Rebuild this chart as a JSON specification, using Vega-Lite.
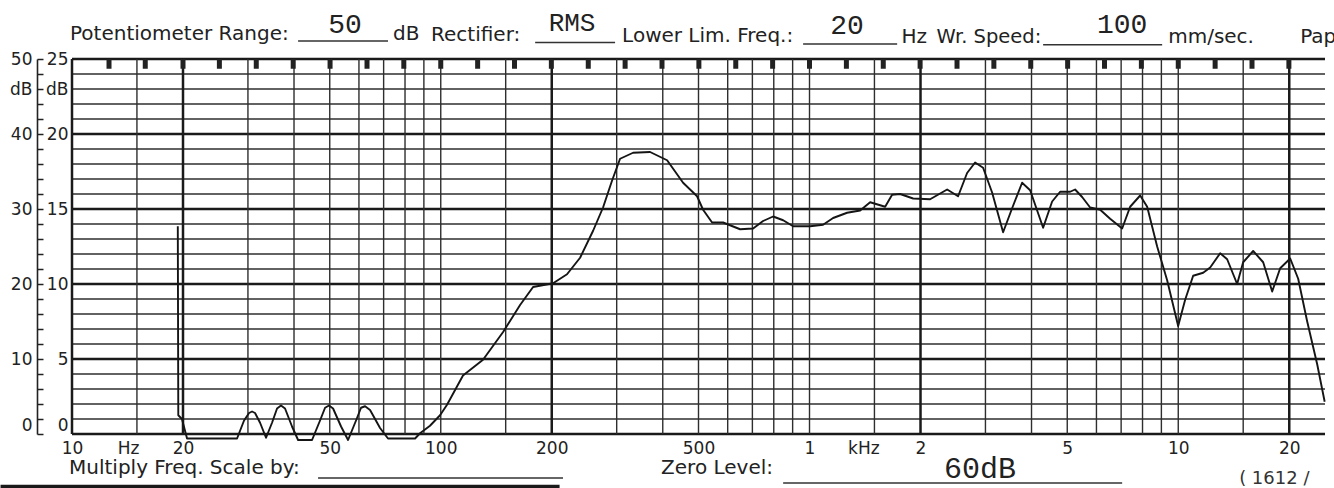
{
  "$schema": "https://vega.github.io/schema/vega-lite/v6.json",
  "width": 1253,
  "height": 375,
  "autosize": {"type": "none"},
  "padding": {"left": 72, "top": 59, "right": 9, "bottom": 54},
  "background": "white",
  "config": {
    "view": {"stroke": null},
    "axis": {"labelFont": "DejaVu Sans", "labelFontSize": 17, "labelColor": "#222", "labelOverlap": false, "labelFlush": false,
      "labelBound": false, "grid": false, "domainColor": "#222", "tickColor": "#222"}
  },
  "datasets": {
    "one": [{}],
    "curve": [
      {"freq": 19.36, "level": 27.7}, {"freq": 19.42, "level": 2.5}, {"freq": 19.87, "level": 2.0}, {"freq": 20.51, "level": -0.6},
      {"freq": 28.03, "level": -0.6}, {"freq": 29.28, "level": 1.8}, {"freq": 30.21, "level": 2.8}, {"freq": 30.78, "level": 3.0},
      {"freq": 31.36, "level": 2.8}, {"freq": 32.36, "level": 1.5}, {"freq": 33.59, "level": -0.5}, {"freq": 34.87, "level": 1.5},
      {"freq": 35.98, "level": 3.4}, {"freq": 36.88, "level": 3.8}, {"freq": 37.82, "level": 3.4}, {"freq": 39.51, "level": 1.0},
      {"freq": 41.03, "level": -0.8}, {"freq": 44.77, "level": -0.8}, {"freq": 47.06, "level": 1.8}, {"freq": 48.56, "level": 3.5},
      {"freq": 49.78, "level": 3.8}, {"freq": 51.05, "level": 3.4}, {"freq": 53.66, "level": 1.0}, {"freq": 56.06, "level": -0.8},
      {"freq": 58.92, "level": 1.8}, {"freq": 60.79, "level": 3.5}, {"freq": 62.34, "level": 3.7}, {"freq": 64.31, "level": 3.2},
      {"freq": 68.45, "level": 0.8}, {"freq": 71.94, "level": -0.6}, {"freq": 85.18, "level": -0.6}, {"freq": 87.88, "level": 0.1},
      {"freq": 93.5, "level": 1.1}, {"freq": 99.56, "level": 2.5}, {"freq": 104.0, "level": 3.9}, {"freq": 114.9, "level": 7.8},
      {"freq": 130.2, "level": 9.9}, {"freq": 147.6, "level": 13.6}, {"freq": 164.1, "level": 17.2}, {"freq": 178.0, "level": 19.6},
      {"freq": 201.7, "level": 20.1}, {"freq": 220.0, "level": 21.3}, {"freq": 238.7, "level": 23.5}, {"freq": 258.9, "level": 27.1},
      {"freq": 275.5, "level": 30.2}, {"freq": 291.5, "level": 33.8}, {"freq": 306.4, "level": 36.7}, {"freq": 332.3, "level": 37.5},
      {"freq": 369.5, "level": 37.6}, {"freq": 411.0, "level": 36.5}, {"freq": 454.1, "level": 33.5}, {"freq": 495.6, "level": 31.7},
      {"freq": 514.5, "level": 29.9}, {"freq": 544.3, "level": 28.2}, {"freq": 583.0, "level": 28.2}, {"freq": 648.3, "level": 27.3},
      {"freq": 703.2, "level": 27.4}, {"freq": 748.3, "level": 28.4}, {"freq": 796.7, "level": 29.0}, {"freq": 848.2, "level": 28.5},
      {"freq": 902.8, "level": 27.7}, {"freq": 1003.8, "level": 27.7}, {"freq": 1088.6, "level": 27.9}, {"freq": 1158.8, "level": 28.8},
      {"freq": 1264.7, "level": 29.5}, {"freq": 1371.9, "level": 29.8}, {"freq": 1460.3, "level": 30.9}, {"freq": 1554.4, "level": 30.5},
      {"freq": 1603.7, "level": 30.3}, {"freq": 1675, "level": 31.9}, {"freq": 1761, "level": 32.0}, {"freq": 1910, "level": 31.4},
      {"freq": 2123.3, "level": 31.3}, {"freq": 2362, "level": 32.6}, {"freq": 2529.1, "level": 31.7}, {"freq": 2675.3, "level": 34.8},
      {"freq": 2812.3, "level": 36.2}, {"freq": 2956.4, "level": 35.5}, {"freq": 3127.4, "level": 32.2}, {"freq": 3350, "level": 26.9},
      {"freq": 3543.8, "level": 30.1}, {"freq": 3771.4, "level": 33.5}, {"freq": 3965.9, "level": 32.5}, {"freq": 4300.7, "level": 27.5},
      {"freq": 4549.6, "level": 31.0}, {"freq": 4782.6, "level": 32.3}, {"freq": 5090.1, "level": 32.3}, {"freq": 5251.5, "level": 32.6},
      {"freq": 5486.6, "level": 31.6}, {"freq": 5768, "level": 30.2}, {"freq": 6140.8, "level": 29.9}, {"freq": 6535.1, "level": 28.7},
      {"freq": 7044.3, "level": 27.4}, {"freq": 7405.1, "level": 30.3}, {"freq": 7882.8, "level": 31.8}, {"freq": 8235.4, "level": 30.3},
      {"freq": 8765.8, "level": 25.0}, {"freq": 9329.5, "level": 20.5}, {"freq": 9993.8, "level": 14.4}, {"freq": 10440, "level": 17.9},
      {"freq": 10975, "level": 21.1}, {"freq": 11683, "level": 21.5}, {"freq": 12205, "level": 22.2}, {"freq": 12990, "level": 24.1},
      {"freq": 13571, "level": 23.3}, {"freq": 14443, "level": 20.0}, {"freq": 14995, "level": 22.9}, {"freq": 15964, "level": 24.4},
      {"freq": 16994, "level": 22.9}, {"freq": 17976, "level": 19.0}, {"freq": 18897, "level": 22.1}, {"freq": 20117, "level": 23.4},
      {"freq": 21146, "level": 20.7}, {"freq": 22370, "level": 15.0}, {"freq": 23810, "level": 9.3}, {"freq": 24950, "level": 4.3}
    ],
    "vthin": [{"freq": 15}, {"freq": 30}, {"freq": 40}, {"freq": 50}, {"freq": 60}, {"freq": 70}, {"freq": 80}, {"freq": 90}, {"freq": 100},
      {"freq": 150}, {"freq": 300}, {"freq": 400}, {"freq": 500}, {"freq": 600}, {"freq": 700}, {"freq": 800}, {"freq": 900}, {"freq": 1000},
      {"freq": 1500}, {"freq": 3000}, {"freq": 4000}, {"freq": 5000}, {"freq": 6000}, {"freq": 7000}, {"freq": 8000}, {"freq": 9000}, {"freq": 10000}, {"freq": 15000}],
    "vthick": [{"freq": 10}, {"freq": 20}, {"freq": 200}, {"freq": 2000}, {"freq": 20000}],
    "hthin": [{"level": 2}, {"level": 4}, {"level": 6}, {"level": 8}, {"level": 12}, {"level": 14}, {"level": 16}, {"level": 18},
      {"level": 22}, {"level": 24}, {"level": 26}, {"level": 28}, {"level": 32}, {"level": 34}, {"level": 36}, {"level": 38},
      {"level": 42}, {"level": 44}, {"level": 46}, {"level": 48}],
    "hthick": [{"level": 0}, {"level": 10}, {"level": 20}, {"level": 30}, {"level": 40}, {"level": 50}],
    "marks": [{"freq": 12.6}, {"freq": 15.8}, {"freq": 20}, {"freq": 25.1}, {"freq": 31.6}, {"freq": 39.8}, {"freq": 50.1}, {"freq": 63.1},
      {"freq": 79.4}, {"freq": 100}, {"freq": 125.9}, {"freq": 158.5}, {"freq": 199.5}, {"freq": 251.2}, {"freq": 316.2}, {"freq": 398.1},
      {"freq": 501.2}, {"freq": 631}, {"freq": 794.3}, {"freq": 1000}, {"freq": 1259}, {"freq": 1585}, {"freq": 1995}, {"freq": 2512},
      {"freq": 3162}, {"freq": 3981}, {"freq": 5012}, {"freq": 6310}, {"freq": 7943}, {"freq": 10000}, {"freq": 12589}, {"freq": 15849}, {"freq": 19953}]
  },
  "layer": [
    {
      "layer": [
        {
          "data": {"name": "hthin"},
          "mark": {"type": "rule", "color": "#2e2e2e", "strokeWidth": 1.3},
          "encoding": {
            "y": {"field": "level", "type": "quantitative", "scale": {"domain": [0, 50], "nice": false, "zero": false},
              "axis": {"title": null, "offset": 35, "values": [0, 10, 20, 30, 40, 46, 50],
                "labelExpr": "datum.value == 46 ? 'dB' : datum.label",
                "labelBaseline": {"condition": {"test": "datum.value == 0", "value": "bottom"}, "value": "middle"},
                "domain": false, "ticks": false, "labelPadding": 5}}
          }
        },
        {
          "data": {"name": "hthick"},
          "mark": {"type": "rule", "color": "#1a1a1a", "strokeWidth": 2.3},
          "encoding": {
            "y": {"field": "level", "type": "quantitative", "scale": {"domain": [0, 50], "nice": false, "zero": false}}
          }
        },
        {
          "data": {"name": "vthin"},
          "mark": {"type": "rule", "color": "#2e2e2e", "strokeWidth": 1.4},
          "encoding": {
            "x": {"field": "freq", "type": "quantitative", "scale": {"type": "log", "domain": [10, 25000], "nice": false},
              "axis": {"title": null, "ticks": false, "domain": false,
                "values": [10, 14.2, 20, 50, 100, 200, 500, 1000, 1400, 2000, 5000, 10000, 20000],
                "labelExpr": "datum.value == 14.2 ? 'Hz' : (datum.value == 1400 ? 'kHz' : (datum.value >= 1000 ? format(datum.value / 1000, 'd') : format(datum.value, 'd')))",
                "labelPadding": 6, "labelBaseline": "top"}}
          }
        },
        {
          "data": {"name": "vthick"},
          "mark": {"type": "rule", "color": "#1a1a1a", "strokeWidth": 2.5},
          "encoding": {
            "x": {"field": "freq", "type": "quantitative", "scale": {"type": "log", "domain": [10, 25000], "nice": false}}
          }
        },
        {
          "data": {"name": "marks"},
          "mark": {"type": "rule", "color": "#222", "strokeWidth": 5},
          "encoding": {
            "x": {"field": "freq", "type": "quantitative", "scale": {"type": "log", "domain": [10, 25000], "nice": false}},
            "y": {"datum": 50, "type": "quantitative", "scale": {"domain": [0, 50], "nice": false, "zero": false}},
            "y2": {"datum": 48.7}
          }
        },
        {
          "data": {"name": "curve"},
          "mark": {"type": "line", "color": "#151515", "strokeWidth": 1.9, "strokeJoin": "round", "clip": false},
          "encoding": {
            "x": {"field": "freq", "type": "quantitative", "scale": {"type": "log", "domain": [10, 25000], "nice": false}},
            "y": {"field": "level", "type": "quantitative", "scale": {"domain": [0, 50], "nice": false, "zero": false}}
          }
        },
        {
          "data": {"name": "one"},
          "mark": {"type": "text", "align": "left", "baseline": "alphabetic", "font": "DejaVu Sans", "fontSize": 20, "color": "#222"},
          "encoding": {
            "x": {"datum": 9.876, "type": "quantitative", "scale": {"type": "log", "domain": [10, 25000], "nice": false}},
            "y": {"datum": 52.6, "type": "quantitative", "scale": {"domain": [0, 50], "nice": false, "zero": false}},
            "text": {"value": "Potentiometer Range:"}
          }
        },
        {
          "data": {"name": "one"},
          "mark": {"type": "text", "align": "left", "baseline": "alphabetic", "font": "DejaVu Sans", "fontSize": 20, "color": "#222"},
          "encoding": {
            "x": {"datum": 74.24, "type": "quantitative", "scale": {"type": "log", "domain": [10, 25000], "nice": false}},
            "y": {"datum": 52.5, "type": "quantitative", "scale": {"domain": [0, 50], "nice": false, "zero": false}},
            "text": {"value": "dB"}
          }
        },
        {
          "data": {"name": "one"},
          "mark": {"type": "text", "align": "left", "baseline": "alphabetic", "font": "DejaVu Sans", "fontSize": 20, "color": "#222"},
          "encoding": {
            "x": {"datum": 94.13, "type": "quantitative", "scale": {"type": "log", "domain": [10, 25000], "nice": false}},
            "y": {"datum": 52.4, "type": "quantitative", "scale": {"domain": [0, 50], "nice": false, "zero": false}},
            "text": {"value": "Rectifier:"}
          }
        },
        {
          "data": {"name": "one"},
          "mark": {"type": "text", "align": "left", "baseline": "alphabetic", "font": "DejaVu Sans", "fontSize": 20, "color": "#222"},
          "encoding": {
            "x": {"datum": 310.3, "type": "quantitative", "scale": {"type": "log", "domain": [10, 25000], "nice": false}},
            "y": {"datum": 52.3, "type": "quantitative", "scale": {"domain": [0, 50], "nice": false, "zero": false}},
            "text": {"value": "Lower Lim. Freq.:"}
          }
        },
        {
          "data": {"name": "one"},
          "mark": {"type": "text", "align": "left", "baseline": "alphabetic", "font": "DejaVu Sans", "fontSize": 20, "color": "#222"},
          "encoding": {
            "x": {"datum": 1775, "type": "quantitative", "scale": {"type": "log", "domain": [10, 25000], "nice": false}},
            "y": {"datum": 52.2, "type": "quantitative", "scale": {"domain": [0, 50], "nice": false, "zero": false}},
            "text": {"value": "Hz"}
          }
        },
        {
          "data": {"name": "one"},
          "mark": {"type": "text", "align": "left", "baseline": "alphabetic", "font": "DejaVu Sans", "fontSize": 19.5, "color": "#222"},
          "encoding": {
            "x": {"datum": 2210, "type": "quantitative", "scale": {"type": "log", "domain": [10, 25000], "nice": false}},
            "y": {"datum": 52.2, "type": "quantitative", "scale": {"domain": [0, 50], "nice": false, "zero": false}},
            "text": {"value": "Wr. Speed:"}
          }
        },
        {
          "data": {"name": "one"},
          "mark": {"type": "text", "align": "left", "baseline": "alphabetic", "font": "DejaVu Sans", "fontSize": 20, "color": "#222"},
          "encoding": {
            "x": {"datum": 9389.8, "type": "quantitative", "scale": {"type": "log", "domain": [10, 25000], "nice": false}},
            "y": {"datum": 52.1, "type": "quantitative", "scale": {"domain": [0, 50], "nice": false, "zero": false}},
            "text": {"value": "mm/sec."}
          }
        },
        {
          "data": {"name": "one"},
          "mark": {"type": "text", "align": "left", "baseline": "alphabetic", "font": "DejaVu Sans", "fontSize": 20, "color": "#222"},
          "encoding": {
            "x": {"datum": 21412, "type": "quantitative", "scale": {"type": "log", "domain": [10, 25000], "nice": false}},
            "y": {"datum": 52.1, "type": "quantitative", "scale": {"domain": [0, 50], "nice": false, "zero": false}},
            "text": {"value": "Pape"}
          }
        },
        {
          "data": {"name": "one"},
          "mark": {"type": "rule", "color": "#333", "strokeWidth": 1.5},
          "encoding": {
            "x": {"datum": 41.03, "type": "quantitative", "scale": {"type": "log", "domain": [10, 25000], "nice": false}},
            "x2": {"datum": 71.94},
            "y": {"datum": 52.4, "type": "quantitative", "scale": {"domain": [0, 50], "nice": false, "zero": false}}
          }
        },
        {
          "data": {"name": "one"},
          "mark": {"type": "rule", "color": "#333", "strokeWidth": 1.5},
          "encoding": {
            "x": {"datum": 180.3, "type": "quantitative", "scale": {"type": "log", "domain": [10, 25000], "nice": false}},
            "x2": {"datum": 297.0},
            "y": {"datum": 52.2, "type": "quantitative", "scale": {"domain": [0, 50], "nice": false, "zero": false}}
          }
        },
        {
          "data": {"name": "one"},
          "mark": {"type": "rule", "color": "#333", "strokeWidth": 1.5},
          "encoding": {
            "x": {"datum": 960.9, "type": "quantitative", "scale": {"type": "log", "domain": [10, 25000], "nice": false}},
            "x2": {"datum": 1728.5},
            "y": {"datum": 52.0, "type": "quantitative", "scale": {"domain": [0, 50], "nice": false, "zero": false}}
          }
        },
        {
          "data": {"name": "one"},
          "mark": {"type": "rule", "color": "#333", "strokeWidth": 1.5},
          "encoding": {
            "x": {"datum": 4300.8, "type": "quantitative", "scale": {"type": "log", "domain": [10, 25000], "nice": false}},
            "x2": {"datum": 9042.7},
            "y": {"datum": 51.9, "type": "quantitative", "scale": {"domain": [0, 50], "nice": false, "zero": false}}
          }
        },
        {
          "data": {"name": "one"},
          "mark": {"type": "text", "align": "center", "baseline": "alphabetic", "font": "Liberation Mono", "fontSize": 28, "color": "#222"},
          "encoding": {
            "x": {"datum": 55.02, "type": "quantitative", "scale": {"type": "log", "domain": [10, 25000], "nice": false}},
            "y": {"datum": 53.5, "type": "quantitative", "scale": {"domain": [0, 50], "nice": false, "zero": false}},
            "text": {"value": "50"}
          }
        },
        {
          "data": {"name": "one"},
          "mark": {"type": "text", "align": "center", "baseline": "alphabetic", "font": "Liberation Mono", "fontSize": 26, "color": "#222"},
          "encoding": {
            "x": {"datum": 227.0, "type": "quantitative", "scale": {"type": "log", "domain": [10, 25000], "nice": false}},
            "y": {"datum": 53.8, "type": "quantitative", "scale": {"domain": [0, 50], "nice": false, "zero": false}},
            "text": {"value": "RMS"}
          }
        },
        {
          "data": {"name": "one"},
          "mark": {"type": "text", "align": "center", "baseline": "alphabetic", "font": "Liberation Mono", "fontSize": 28, "color": "#222"},
          "encoding": {
            "x": {"datum": 1264.7, "type": "quantitative", "scale": {"type": "log", "domain": [10, 25000], "nice": false}},
            "y": {"datum": 53.4, "type": "quantitative", "scale": {"domain": [0, 50], "nice": false, "zero": false}},
            "text": {"value": "20"}
          }
        },
        {
          "data": {"name": "one"},
          "mark": {"type": "text", "align": "center", "baseline": "alphabetic", "font": "Liberation Mono", "fontSize": 28, "color": "#222"},
          "encoding": {
            "x": {"datum": 7044, "type": "quantitative", "scale": {"type": "log", "domain": [10, 25000], "nice": false}},
            "y": {"datum": 53.5, "type": "quantitative", "scale": {"domain": [0, 50], "nice": false, "zero": false}},
            "text": {"value": "100"}
          }
        },
        {
          "data": {"name": "one"},
          "mark": {"type": "text", "align": "left", "baseline": "alphabetic", "font": "DejaVu Sans", "fontSize": 20, "color": "#222"},
          "encoding": {
            "x": {"datum": 9.814, "type": "quantitative", "scale": {"type": "log", "domain": [10, 25000], "nice": false}},
            "y": {"datum": -5.33, "type": "quantitative", "scale": {"domain": [0, 50], "nice": false, "zero": false}},
            "text": {"value": "Multiply Freq. Scale by:"}
          }
        },
        {
          "data": {"name": "one"},
          "mark": {"type": "rule", "color": "#333", "strokeWidth": 1.5},
          "encoding": {
            "x": {"datum": 46.48, "type": "quantitative", "scale": {"type": "log", "domain": [10, 25000], "nice": false}},
            "x2": {"datum": 214.6},
            "y": {"datum": -5.87, "type": "quantitative", "scale": {"domain": [0, 50], "nice": false, "zero": false}}
          }
        },
        {
          "data": {"name": "one"},
          "mark": {"type": "rule", "color": "#1a1a1a", "strokeWidth": 3.5},
          "encoding": {
            "x": {"datum": 6.4, "type": "quantitative", "scale": {"type": "log", "domain": [10, 25000], "nice": false}},
            "x2": {"datum": 210},
            "y": {"datum": -7.0, "type": "quantitative", "scale": {"domain": [0, 50], "nice": false, "zero": false}}
          }
        },
        {
          "data": {"name": "one"},
          "mark": {"type": "text", "align": "left", "baseline": "alphabetic", "font": "DejaVu Sans", "fontSize": 20, "color": "#222"},
          "encoding": {
            "x": {"datum": 395.9, "type": "quantitative", "scale": {"type": "log", "domain": [10, 25000], "nice": false}},
            "y": {"datum": -5.33, "type": "quantitative", "scale": {"domain": [0, 50], "nice": false, "zero": false}},
            "text": {"value": "Zero Level:"}
          }
        },
        {
          "data": {"name": "one"},
          "mark": {"type": "rule", "color": "#333", "strokeWidth": 1.5},
          "encoding": {
            "x": {"datum": 848.2, "type": "quantitative", "scale": {"type": "log", "domain": [10, 25000], "nice": false}},
            "x2": {"datum": 7044},
            "y": {"datum": -6.53, "type": "quantitative", "scale": {"domain": [0, 50], "nice": false, "zero": false}}
          }
        },
        {
          "data": {"name": "one"},
          "mark": {"type": "text", "align": "center", "baseline": "alphabetic", "font": "Liberation Mono", "fontSize": 30, "color": "#222"},
          "encoding": {
            "x": {"datum": 2901.7, "type": "quantitative", "scale": {"type": "log", "domain": [10, 25000], "nice": false}},
            "y": {"datum": -5.87, "type": "quantitative", "scale": {"domain": [0, 50], "nice": false, "zero": false}},
            "text": {"value": "60dB"}
          }
        },
        {
          "data": {"name": "one"},
          "mark": {"type": "text", "align": "left", "baseline": "alphabetic", "font": "DejaVu Sans", "fontSize": 18, "color": "#333"},
          "encoding": {
            "x": {"datum": 14624, "type": "quantitative", "scale": {"type": "log", "domain": [10, 25000], "nice": false}},
            "y": {"datum": -6.6, "type": "quantitative", "scale": {"domain": [0, 50], "nice": false, "zero": false}},
            "text": {"value": "( 1612 /"}
          }
        }
      ]
    },
    {
      "data": {"name": "one"},
      "mark": {"type": "rule", "opacity": 0},
      "encoding": {
        "y": {"datum": 0, "type": "quantitative", "scale": {"domain": [0, 25], "nice": false, "zero": false},
          "axis": {"title": null, "orient": "left", "offset": 0, "values": [0, 5, 10, 15, 20, 23, 25],
            "labelExpr": "datum.value == 23 ? 'dB' : datum.label",
            "labelBaseline": {"condition": {"test": "datum.value == 0", "value": "bottom"}, "value": "middle"},
            "domain": false, "ticks": false, "labelPadding": 4}}
      }
    },
    {
      "data": {"name": "one"},
      "mark": {"type": "rule", "opacity": 0},
      "encoding": {
        "y": {"datum": 0, "type": "quantitative", "scale": {"domain": [0, 50], "nice": false, "zero": false},
          "axis": {"title": null, "orient": "left", "offset": 35,
            "values": [0, 2, 4, 6, 8, 10, 12, 14, 16, 18, 20, 22, 24, 26, 28, 30, 32, 34, 36, 38, 40, 42, 44, 46, 48, 50],
            "labels": false, "domain": true, "domainWidth": 1.6, "ticks": true, "tickSize": -6, "tickWidth": 1.5}}
      }
    }
  ],
  "resolve": {"scale": {"y": "independent"}, "axis": {"y": "independent"}}
}
